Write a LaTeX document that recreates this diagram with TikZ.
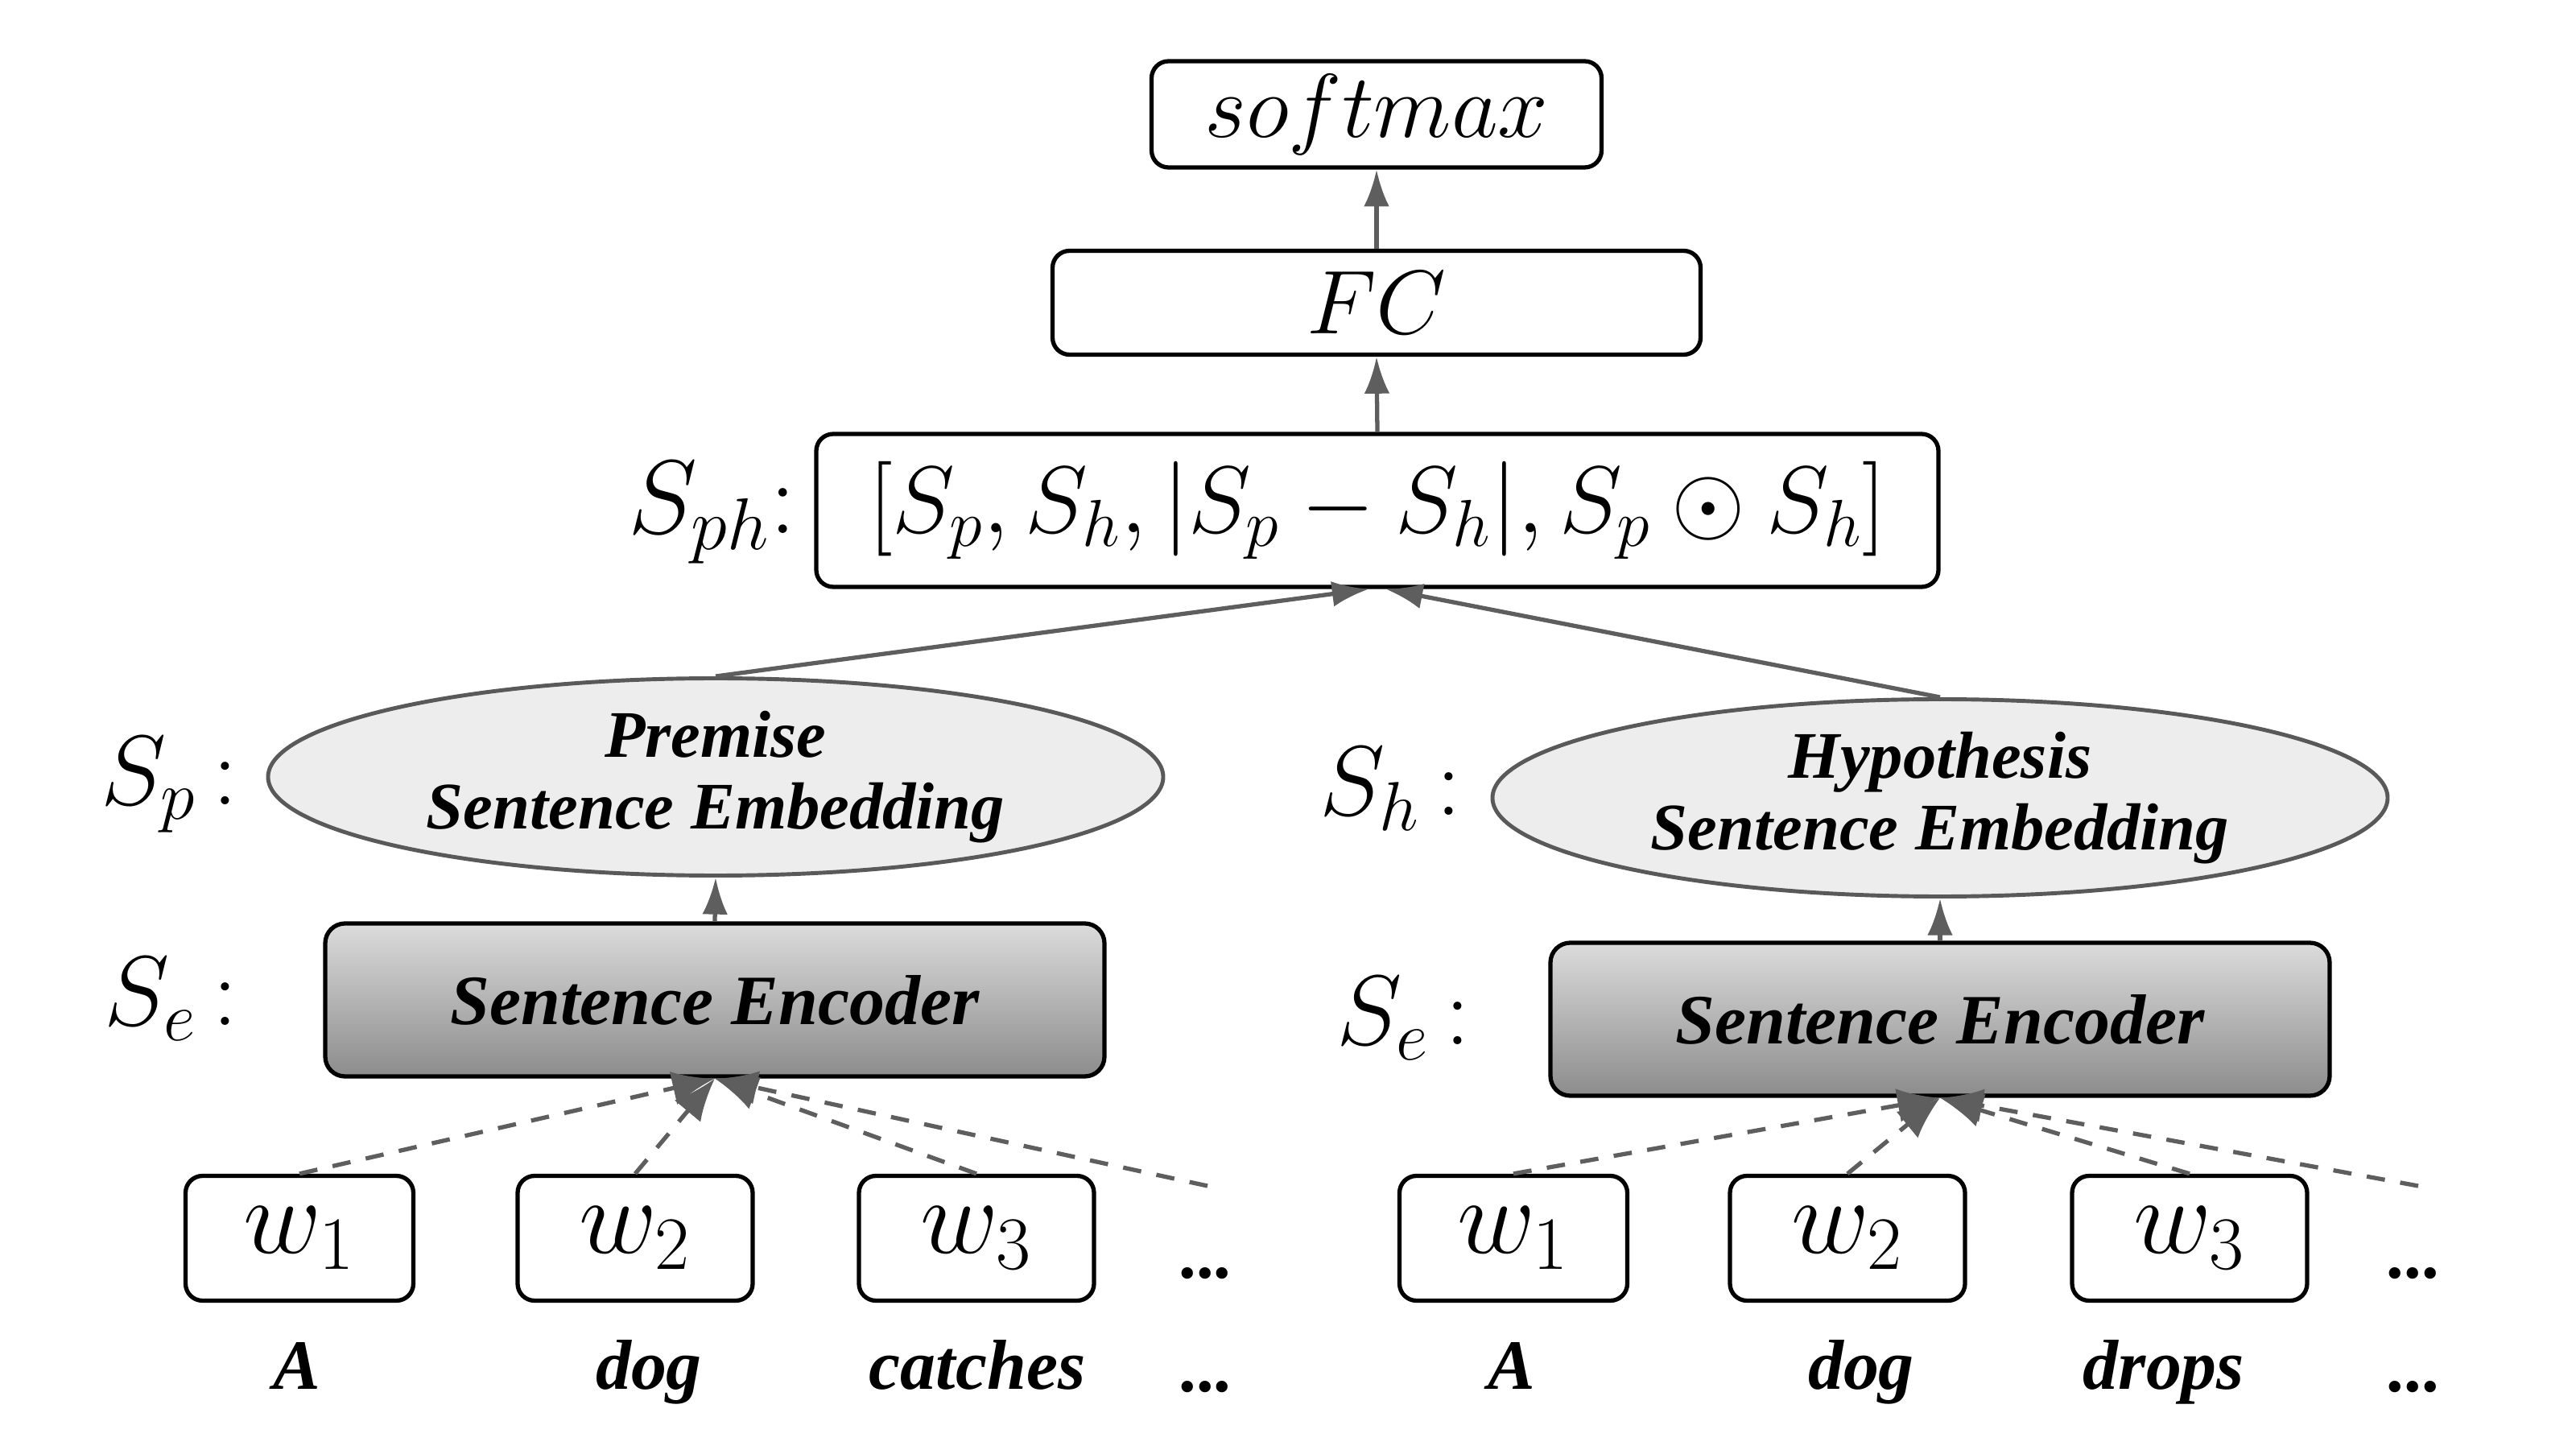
\RequirePackage{fix-cm}
\documentclass[tikz,border=0pt]{standalone}
\usepackage{fontspec}
\newfontfamily\wordfont{Liberation Serif}
\usetikzlibrary{positioning, arrows.meta, shapes.geometric}

\newcommand{\lbl}{\wordfont\bfseries\itshape\fontsize{25}{26}\selectfont}
\newcommand{\emblbl}{\wordfont\bfseries\itshape\fontsize{23.5}{25.5}\selectfont}
\newcommand{\mth}{\fontsize{32}{36}\selectfont}
\newcommand{\tagmth}{\fontsize{35}{38}\selectfont}
\newcommand{\wmth}{\fontsize{38}{40}\selectfont}

\begin{document}
\begin{tikzpicture}[
  box/.style={draw, line width=1.5pt, rounded corners=6pt, fill=white,
              inner sep=0pt, font=\mth},
  wbox/.style={box, minimum width=2.92cm, minimum height=1.55cm, font=\wmth},
  enc/.style={draw, line width=1.5pt, rounded corners=7pt,
              top color=black!14, bottom color=black!45,
              minimum width=9.68cm, minimum height=1.9cm, font=\lbl},
  emb/.style={ellipse, draw=black!65, line width=1.4pt, fill=black!7,
              minimum width=11.12cm, minimum height=2.45cm, inner sep=0pt,
              align=center, font=\emblbl},
  tag/.style={anchor=east, inner sep=0pt, font=\tagmth},
  word/.style={anchor=base, inner sep=0pt, font=\lbl},
  arr/.style={-{Latex[length=13pt, width=9pt]}, draw=black!63, line width=1.5pt},
  darr/.style={arr, dash pattern=on 6.5pt off 5.5pt,
               -{Latex[length=15pt, width=12pt]}}
]
\useasboundingbox (0,0) rectangle (32,18);

% top of the network
\node[box, minimum width=5.59cm, minimum height=1.32cm] (soft) at (17.1,16.58) {$softmax$};
\node[box, minimum width=8.05cm, minimum height=1.29cm] (fc) at (17.1,14.24) {$FC$};
\node[box, minimum width=13.94cm, minimum height=1.9cm, font=\fontsize{33.5}{36}\selectfont]
  (cat) at (17.11,11.66) {$[S_p, S_h, |S_p - S_h|, S_p \odot S_h]$};
\node[tag, font=\fontsize{37}{40}\selectfont] (tph) at (9.9,11.63) {$S_{ph}$:};

% premise branch
\node[emb] (pemb) at (8.89,8.35) {Premise\\Sentence Embedding};
\node[enc] (penc) at (8.88,5.58) {Sentence Encoder};
\node[tag] (tp) at (2.96,8.25) {$S_p$\,:};
\node[tag] (tpe) at (2.96,5.59) {$S_e$\,:};
\node[wbox, minimum width=2.83cm] (pw1) at (3.72,2.62) {$w_1$};
\node[wbox] (pw2) at (7.89,2.62) {$w_2$};
\node[wbox] (pw3) at (12.13,2.62) {$w_3$};
\node[word] (pdots) at (15.0,2.13) {...};
\coordinate (pdtop) at (15.0,3.27);
\node[word] (pa) at (3.69,0.75) {A};
\node[word] (pdog) at (8.06,0.75) {dog};
\node[word] (pcat) at (12.14,0.75) {catches};
\node[word] (pmore) at (15.0,0.72) {...};

% hypothesis branch
\node[emb] (hemb) at (24.1,8.09) {Hypothesis\\Sentence Embedding};
\node[enc] (henc) at (24.1,5.34) {Sentence Encoder};
\node[tag] (th) at (18.16,8.2) {$S_h$\,:};
\node[tag] (the) at (18.27,5.35) {$S_e$\,:};
\node[wbox, minimum width=2.83cm] (hw1) at (18.8,2.62) {$w_1$};
\node[wbox] (hw2) at (22.95,2.62) {$w_2$};
\node[wbox] (hw3) at (27.2,2.62) {$w_3$};
\node[word] (hdots) at (30.0,2.13) {...};
\coordinate (hdtop) at (30.04,3.27);
\node[word] (ha) at (18.78,0.75) {A};
\node[word] (hdog) at (23.12,0.75) {dog};
\node[word] (hdrop) at (26.88,0.75) {drops};
\node[word] (hmore) at (30.0,0.72) {...};

% connections
\draw[arr] (fc.north) -- (soft.south);
\draw[arr] (cat.north) -- (fc.south);
\draw[arr] (pemb.north) -- ([xshift=-3pt]cat.south);
\draw[arr] (hemb.north) -- ([xshift=3pt]cat.south);
\draw[arr] (penc.north) -- (pemb.south);
\draw[arr] (henc.north) -- (hemb.south);

\draw[darr] (pw1.north) -- (penc.south);
\draw[darr] (pw2.north) -- (penc.south);
\draw[darr] (pw3.north) -- (penc.south);
\draw[darr] (pdtop) -- (penc.south);
\draw[darr] (hw1.north) -- (henc.south);
\draw[darr] (hw2.north) -- (henc.south);
\draw[darr] (hw3.north) -- (henc.south);
\draw[darr] (hdtop) -- (henc.south);
\end{tikzpicture}
\end{document}
